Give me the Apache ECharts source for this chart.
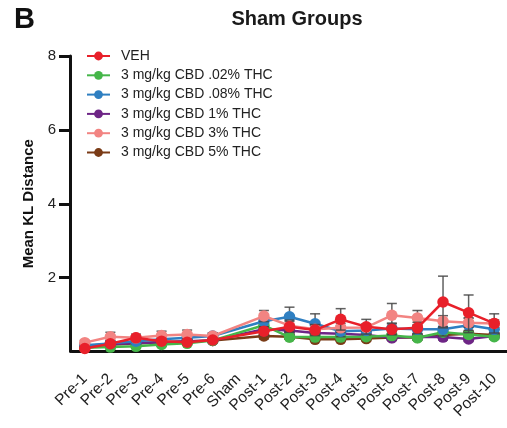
<!DOCTYPE html>
<html><head><meta charset="utf-8">
<script src="https://cdn.jsdelivr.net/npm/echarts@6/dist/echarts.min.js"></script>
<style>html,body{margin:0;padding:0;background:#fff}#c{width:507px;height:428px}</style>
</head><body><div id="c"></div>
<script>
const categories = ['Pre-1','Pre-2','Pre-3','Pre-4','Pre-5','Pre-6','Sham','Post-1','Post-2','Post-3','Post-4','Post-5','Post-6','Post-7','Post-8','Post-9','Post-10'];
const yTicks = [0, 2, 4, 6, 8];
const seriesNames = ['VEH','3 mg/kg CBD .02% THC','3 mg/kg CBD .08% THC','3 mg/kg CBD 1% THC','3 mg/kg CBD 3% THC','3 mg/kg CBD 5% THC'];
const veh    = [0.08,0.21,0.37,0.28,0.25,0.31,null,0.55,0.67,0.58,0.87,0.67,0.60,0.64,1.34,1.05,0.76];
const cbd002 = [0.10,0.12,0.14,0.19,0.22,0.30,null,0.71,0.39,0.39,0.39,0.40,0.43,0.37,0.52,0.46,0.40];
const cbd008 = [0.17,0.22,0.28,0.33,0.37,0.42,null,0.82,0.94,0.75,0.55,0.57,0.62,0.60,0.60,0.71,0.60];
const cbd1   = [0.15,0.20,0.22,0.25,0.28,0.30,null,0.60,0.57,0.50,0.48,0.45,0.37,0.40,0.39,0.34,0.42];
const cbd3   = [0.24,0.40,0.37,0.43,0.46,0.42,null,0.96,0.70,0.60,0.64,0.65,0.98,0.91,0.82,0.78,0.76];
const cbd5   = [0.12,0.18,0.22,0.25,0.27,0.30,null,0.42,0.40,0.33,0.33,0.35,0.38,0.38,0.45,0.48,0.45];
const errVeh    = [0.05,0.05,0.06,0.06,0.06,0.05,null,0.12,0.15,0.15,0.29,0.20,0.15,0.15,0.70,0.48,0.26];
const err002    = [0.04,0.05,0.05,0.05,0.05,0.05,null,0.10,0.06,0.06,0.06,0.06,0.06,0.06,0.08,0.07,0.06];
const err008    = [0.05,0.08,0.08,0.08,0.10,0.08,null,0.15,0.26,0.27,0.15,0.12,0.15,0.12,0.18,0.20,0.12];
const err1      = [0.04,0.05,0.05,0.05,0.05,0.05,null,0.10,0.08,0.08,0.08,0.08,0.07,0.07,0.08,0.07,0.07];
const err3      = [0.06,0.12,0.10,0.12,0.12,0.08,null,0.15,0.15,0.12,0.12,0.10,0.32,0.20,0.15,0.12,0.10];
const err5      = [0.04,0.05,0.05,0.05,0.05,0.05,null,0.08,0.06,0.06,0.06,0.06,0.06,0.06,0.07,0.07,0.06];

const colors = ['#e8202a','#45b649','#2f7fc1','#6e2586','#f28482','#7a3b16'];
const values = [veh, cbd002, cbd008, cbd1, cbd3, cbd5];
const errs = [errVeh, err002, err008, err1, err3, err5];
// drawing order (bottom to top)
const order = [5, 3, 1, 2, 4, 0];
const FONT = 'Liberation Sans, Arial, sans-serif';

const series = [];
order.forEach((k, rank) => {
  const data = [];
  values[k].forEach((v, i) => { if (v != null) data.push([i, v, errs[k][i]]); });
  series.push({
    type: 'custom', name: seriesNames[k] + ' err', z: 2 + rank * 2,
    silent: true, legendHoverLink: false,
    renderItem: (params, api) => {
      const x = api.value(0), y = api.value(1), e = api.value(2);
      const hi = api.coord([x, y + e]);
      const lo = api.coord([x, Math.max(0, y - e)]);
      const st = { stroke: '#444', lineWidth: 1.5, opacity: 0.85 };
      return { type: 'group', children: [
        { type: 'line', shape: { x1: hi[0], y1: hi[1], x2: lo[0], y2: lo[1] }, style: st },
        { type: 'line', shape: { x1: hi[0] - 5, y1: hi[1], x2: hi[0] + 5, y2: hi[1] }, style: st },
        { type: 'line', shape: { x1: lo[0] - 5, y1: lo[1], x2: lo[0] + 5, y2: lo[1] }, style: st }
      ]};
    },
    encode: { x: 0, y: 1 },
    data: data
  });
  series.push({
    type: 'line', name: seriesNames[k], z: 3 + rank * 2,
    data: values[k], connectNulls: true,
    symbol: 'circle', symbolSize: 11.5,
    lineStyle: { color: colors[k], width: 2.5 },
    itemStyle: { color: colors[k] },
    emphasis: { disabled: true }
  });
});

const chart = echarts.init(document.getElementById('c'));
chart.setOption({
  animation: false,
  backgroundColor: '#fff',
  title: [
    { text: 'Sham Groups', left: 292, top: 4, textAlign: 'center',
      textStyle: { fontFamily: FONT, fontSize: 20, fontWeight: 'bold', color: '#1a1a1a' } },
    { text: 'B', left: 9, top: 0,
      textStyle: { fontFamily: FONT, fontSize: 29, fontWeight: 'bold', color: '#111' } }
  ],
  legend: {
    data: seriesNames, orient: 'vertical', left: 86, top: 49, itemGap: 5.3, padding: 0,
    itemWidth: 23, itemHeight: 11,
    textStyle: { fontFamily: FONT, fontSize: 14, color: '#222', padding: [0, 0, 0, 6] }
  },
  grid: { left: 72, right: -2, top: 56, bottom: 76.5 },
  xAxis: {
    type: 'category', data: categories, boundaryGap: true,
    axisLine: { lineStyle: { color: '#111', width: 3 } },
    axisTick: { alignWithLabel: true, length: 10, lineStyle: { color: '#111', width: 3 } },
    axisLabel: { rotate: 45, fontSize: 15.5, color: '#222', margin: 25, interval: 0, fontFamily: FONT }
  },
  yAxis: {
    type: 'value', min: yTicks[0], max: yTicks[yTicks.length - 1], interval: 2, offset: 2,
    name: 'Mean KL Distance', nameLocation: 'middle', nameGap: 25,
    nameTextStyle: { fontFamily: FONT, fontSize: 15, fontWeight: 'bold', color: '#111' },
    axisLine: { show: true, lineStyle: { color: '#111', width: 3 } },
    axisTick: { show: true, length: 11, customValues: yTicks.slice(1), lineStyle: { color: '#111', width: 3 } },
    splitLine: { show: false },
    axisLabel: { fontSize: 15, color: '#222', margin: 14, fontFamily: FONT, customValues: yTicks.slice(1) }
  },
  series: series
});
</script></body></html>
